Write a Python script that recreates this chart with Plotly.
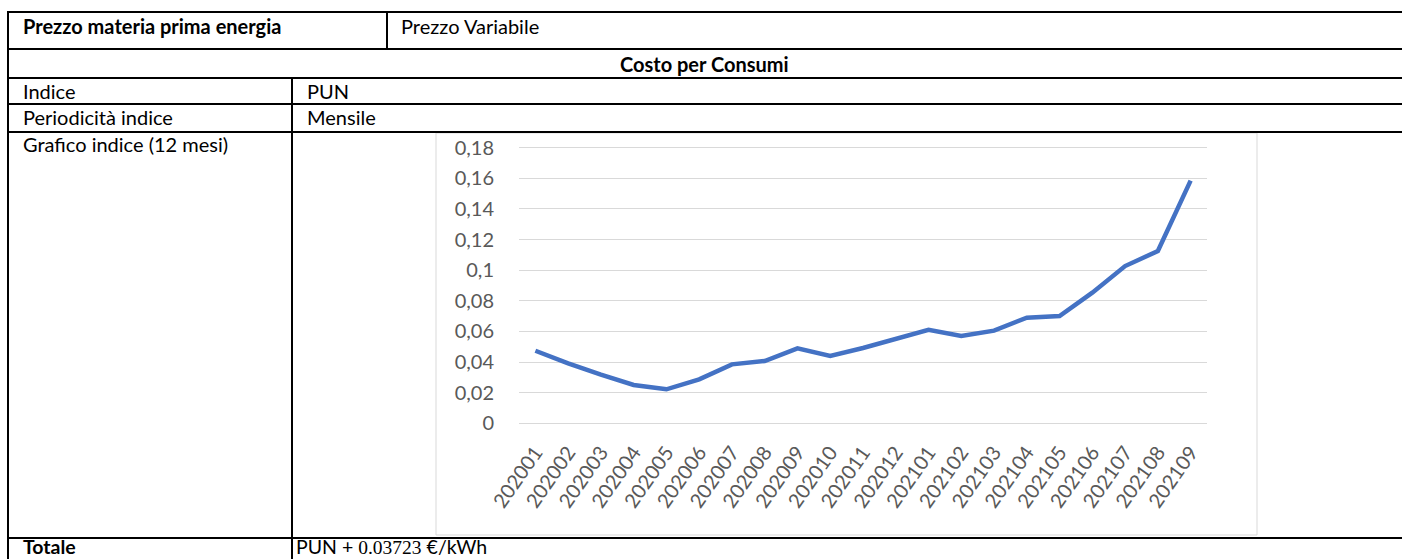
import plotly.graph_objects as go

W, H = 1402, 559

# ---- data ----
months = ["202001", "202002", "202003", "202004", "202005", "202006", "202007",
          "202008", "202009", "202010", "202011", "202012", "202101", "202102",
          "202103", "202104", "202105", "202106", "202107", "202108", "202109"]
pun_values = [0.0474, 0.0392, 0.0318, 0.0250, 0.0222, 0.0287, 0.0385,
              0.0407, 0.0490, 0.0440, 0.0492, 0.0549, 0.0610, 0.0570,
              0.0605, 0.0690, 0.0700, 0.0853, 0.1027, 0.1125, 0.1585]
y_tick_vals = [0, 0.02, 0.04, 0.06, 0.08, 0.10, 0.12, 0.14, 0.16, 0.18]
y_tick_text = ["0", "0,02", "0,04", "0,06", "0,08", "0,1", "0,12", "0,14", "0,16", "0,18"]

row_labels = ["Indice", "Periodicità indice", "Grafico indice (12 mesi)"]
row_values = ["PUN", "Mensile", ""]


def px(x):
    return x / W


def py(y):
    return (H - y) / H


FONT = "Lato"
TFS = 20
fig = go.Figure()
fig.add_trace(go.Scatter(
    x=months, y=pun_values, mode="lines",
    line=dict(color="#4472C4", width=4.5),
    hoverinfo="x+y", showlegend=False,
))

# plot area geometry (pixels)
pl, pr = 519, 1207
y0px, y18px = 423.3, 147.7
unit = (y0px - y18px) / 0.18
ext = 0.001
dom_bottom = y0px + ext * unit
dom_top = y18px - ext * unit

shapes = []
LC = "#000000"
LW = 2
full_r = 1410
# horizontal table lines
for yy in [12, 49, 78, 104, 132, 538]:
    shapes.append(dict(type="line", xref="paper", yref="paper",
                       x0=px(7), x1=px(full_r), y0=py(yy), y1=py(yy),
                       line=dict(color=LC, width=LW)))
# vertical lines
shapes.append(dict(type="line", xref="paper", yref="paper",
                   x0=px(8), x1=px(8), y0=py(11), y1=py(565),
                   line=dict(color=LC, width=LW)))
shapes.append(dict(type="line", xref="paper", yref="paper",
                   x0=px(387), x1=px(387), y0=py(12), y1=py(49),
                   line=dict(color=LC, width=LW)))
shapes.append(dict(type="line", xref="paper", yref="paper",
                   x0=px(292), x1=px(292), y0=py(78), y1=py(565),
                   line=dict(color=LC, width=LW)))
# chart frame
shapes.append(dict(type="rect", xref="paper", yref="paper",
                   x0=px(436), x1=px(1257), y0=py(535), y1=py(133),
                   line=dict(color="#D9D9D9", width=1), layer="below"))

annotations = []


def txt(t, x, y, bold=False, anchor="left", size=TFS):
    annotations.append(dict(
        text=("<b>%s</b>" % t) if bold else t,
        x=px(x), y=py(y), xref="paper", yref="paper",
        xanchor=anchor, yanchor="middle", showarrow=False,
        font=dict(family=FONT, size=size, color="#000000"),
    ))


txt("Prezzo materia prima energia", 21, 25.5, bold=True)
txt("Prezzo Variabile", 399, 25.5)
txt("Costo per Consumi", 704, 63.5, bold=True, anchor="center")
row_y = [90.5, 117, 144]
for lab, val, yy in zip(row_labels, row_values, row_y):
    txt(lab, 21, yy)
    if val:
        txt(val, 305, yy)
txt("Totale", 21, 546, bold=True, size=19.5)
txt('PUN + <span style="font-family:Liberation Serif, serif">0.03723</span> €/kWh', 294, 546, size=19.5)

fig.update_layout(
    width=W, height=H,
    margin=dict(l=0, r=0, t=0, b=0, autoexpand=False),
    paper_bgcolor="white", plot_bgcolor="white",
    shapes=shapes, annotations=annotations,
    xaxis=dict(
        type="category", domain=[px(pl), px(pr)], range=[-0.5, len(months) - 0.5],
        showgrid=False, zeroline=False, showline=False, automargin=False,
        tickangle=-55, ticks="outside", ticklen=7, tickcolor="rgba(0,0,0,0)",
        tickfont=dict(family=FONT, size=20, color="#595959"),
    ),
    yaxis=dict(
        domain=[py(dom_bottom), py(dom_top)], range=[-ext, 0.18 + ext],
        tickvals=y_tick_vals, ticktext=y_tick_text, automargin=False,
        showgrid=True, gridcolor="#D9D9D9", gridwidth=1.3,
        zeroline=False, showline=False,
        ticks="outside", ticklen=20, tickcolor="rgba(0,0,0,0)",
        tickfont=dict(family=FONT, size=20, color="#595959"),
    ),
    font=dict(family=FONT),
)

fig.write_html("out.html",
               config={"displayModeBar": False},
               post_script="document.body.style.margin='0';document.body.style.overflow='hidden';")
